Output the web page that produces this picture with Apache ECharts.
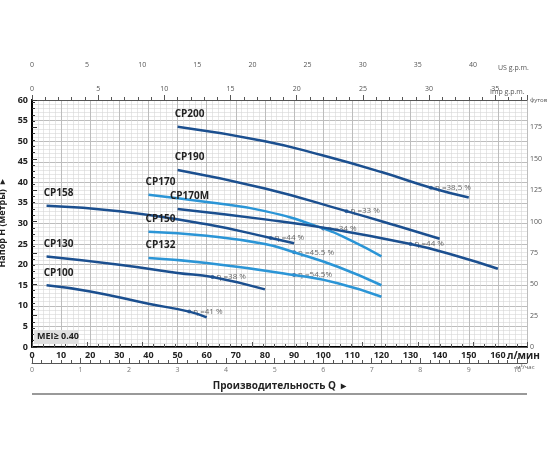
<!DOCTYPE html>
<html><head><meta charset="utf-8">
<script src="https://cdn.jsdelivr.net/npm/echarts@6/dist/echarts.min.js"></script>
<style>html,body{margin:0;background:#fff}#chart{width:550px;height:450px}</style>
</head><body><div id="chart"></div>
<script>
// curves: [Q l/min, H m]
var names = ['CP200', 'CP190', 'CP170', 'CP170M', 'CP158', 'CP150', 'CP132', 'CP130', 'CP100']
var curves = [
  [[50, 53.5], [80, 50], [100, 46.5], [120, 42.5], [137, 38.7], [150, 36.3]],
  [[50, 43], [80, 38.5], [108, 33], [125, 29.5], [140, 26.3]],
  [[40, 37], [60, 35.2], [80, 33], [100, 28.8], [110, 25.7], [120, 22]],
  [[50, 33.5], [80, 31], [100, 29], [130, 25], [145, 22.3], [160, 19]],
  [[5, 34.3], [30, 33], [60, 29.8], [82, 26.5], [90, 25.2]],
  [[40, 28], [60, 27], [80, 25], [90, 23], [105, 19.5], [120, 15]],
  [[40, 21.6], [60, 20.4], [90, 17.5], [105, 15.5], [120, 12.2]],
  [[5, 22], [30, 20], [50, 18], [62, 17], [80, 14]],
  [[5, 15], [20, 13.5], [40, 10.5], [54, 8.6], [60, 7.2]]
]
var light = [false, false, true, false, false, true, true, false, false]
var labelPos = [[50, 53.5], [50, 43], [40, 37], [50, 33.5], [5, 34.3], [40, 28], [40, 21.6], [5, 22], [5, 15]]
var etaPts = [[137, 38.7, 'η =38,5 %'], [108, 33, 'η =33 %'], [100, 28.8, 'η =34 %'], [130, 25, 'η =44 %'],
  [82, 26.5, 'η =44 %'], [90, 23, 'η =45.5 %'], [90, 17.5, 'η =54.5%'], [62, 17, 'η =38 %'], [54, 8.6, 'η =41 %']]

var dark = '#1b4f8f', lite = '#2b95d6'
var grid = { left: 32, right: 23, top: 100, bottom: 103, containLabel: false, outerBoundsMode: 'none' }
var minor = { show: true, lineStyle: { color: '#d6d6d6', width: 0.6 } }
var split = { show: true, lineStyle: { color: '#bdbdbd', width: 1 } }
var series = []
curves.forEach(function (c, i) {
  series.push({
    type: 'line', data: c, smooth: true, symbol: 'none',
    lineStyle: { color: light[i] ? lite : dark, width: 2.5 },
    markPoint: {
      symbol: 'rect', symbolSize: 1, itemStyle: { color: 'transparent' },
      data: [{ coord: labelPos[i], label: { show: true, formatter: names[i], position: 'top', offset: [12, -2], color: '#222', fontWeight: 'bold', fontSize: 10 } }]
    }
  })
})
series.push({
  type: 'scatter', data: etaPts, symbolSize: 4, itemStyle: { color: dark },
  label: { show: true, position: 'right', distance: 2, formatter: function (p) { return p.value[2] }, fontSize: 8, color: '#444' }
})

function unit(x, y, t, size, bold) {
  return { type: 'text', left: x, top: y, z: 100, style: { text: t, font: (bold ? 'bold ' : '') + size + 'px Open Sans', fill: bold ? '#222' : '#555' } }
}

var option = {
  backgroundColor: '#fff',
  animation: false,
  textStyle: { fontFamily: 'Open Sans' },
  grid: grid,
  xAxis: [
    { type: 'value', min: 0, max: 170, interval: 10, position: 'bottom',
      axisLine: { lineStyle: { color: '#000', width: 2 } }, axisTick: { show: false },
      axisLabel: { color: '#222', fontSize: 9, fontWeight: 'bold', margin: 4, formatter: function (v) { return v === 170 ? '' : v } },
      minorTick: { show: false, splitNumber: 5 }, splitLine: split, minorSplitLine: minor },
    { type: 'value', min: 0, max: 44.9, interval: 5, position: 'top', offset: 24,
      axisLine: { lineStyle: { color: '#555' } }, axisTick: { lineStyle: { color: '#555' } },
      minorTick: { show: true, splitNumber: 5, lineStyle: { color: '#555' } },
      axisLabel: { color: '#555', fontSize: 7, formatter: function (v) { return v > 44 ? '' : v } }, splitLine: { show: false } },
    { type: 'value', min: 0, max: 37.4, interval: 5, position: 'top',
      axisLine: { lineStyle: { color: '#555' } }, axisTick: { lineStyle: { color: '#555' } },
      minorTick: { show: true, splitNumber: 5, lineStyle: { color: '#555' } },
      axisLabel: { color: '#555', fontSize: 7, formatter: function (v) { return v > 36 ? '' : v } }, splitLine: { show: false } },
    { type: 'value', min: 0, max: 10.2, interval: 1, position: 'bottom', offset: 16,
      axisLine: { lineStyle: { color: '#555' } }, axisTick: { inside: true, lineStyle: { color: '#555' } },
      minorTick: { show: true, splitNumber: 5, lineStyle: { color: '#555' } },
      axisLabel: { color: '#777', fontSize: 7, margin: 3, formatter: function (v) { return v > 10 ? '' : v } }, splitLine: { show: false },
      name: 'Производительность Q  ▸', nameLocation: 'middle', nameGap: 18,
      nameTextStyle: { fontSize: 10, fontWeight: 'bold', color: '#222' } }
  ],
  yAxis: [
    { type: 'value', min: 0, max: 60, interval: 5,
      axisLine: { show: true, lineStyle: { color: '#000', width: 2 } }, axisTick: { show: false },
      axisLabel: { color: '#222', fontSize: 9, fontWeight: 'bold', margin: 4 },
      splitLine: split, minorTick: { show: false, splitNumber: 5 }, minorSplitLine: minor,
      name: 'Напор H (метры)  ▸', nameLocation: 'middle', nameGap: 17, nameRotate: 90,
      nameTextStyle: { fontSize: 9, fontWeight: 'bold', color: '#222' } },
    { type: 'value', min: 0, max: 196.85, interval: 25, position: 'right',
      axisLine: { show: true, lineStyle: { color: '#000', width: 2 } },
      axisTick: { show: true, lineStyle: { color: '#333' } },
      minorTick: { show: true, splitNumber: 5, lineStyle: { color: '#333' } },
      axisLabel: { color: '#555', fontSize: 7, margin: 3, formatter: function (v) { return v > 190 ? '' : v } },
      splitLine: { show: false } }
  ],
  graphic: [
    { type: 'rect', left: 34, top: 330, z: 90, shape: { width: 44, height: 14 }, style: { fill: '#e0e0e0' } },
    unit(37, 332, 'MEI≥ 0.40', 9, true),
    unit(498, 64, 'US g.p.m.', 7, false),
    unit(490, 88, 'Imp g.p.m.', 7, false),
    unit(530, 97, 'футов', 6, false),
    unit(507, 351, 'л/мин', 10, true),
    unit(516, 364, 'м³/час', 6, false),
    { type: 'rect', left: 32, top: 393, shape: { width: 495, height: 2 }, style: { fill: '#999' } }
  ],
  series: series
}
echarts.init(document.getElementById('chart')).setOption(option)
</script></body></html>
